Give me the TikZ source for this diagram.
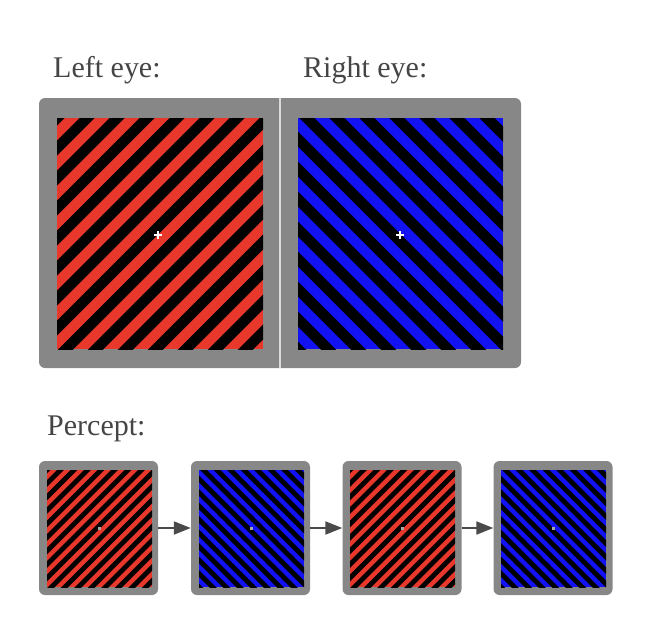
\documentclass[tikz,border=0pt]{standalone}
\usepackage{fontspec}
\setmainfont{Liberation Serif}
\usetikzlibrary{arrows.meta}
\definecolor{framegray}{HTML}{878787}
\definecolor{stripered}{HTML}{E8372B}
\definecolor{stripeblue}{HTML}{1212F2}
\definecolor{textgray}{HTML}{454545}
\definecolor{arrowgray}{HTML}{4A4A4A}
\definecolor{divgray}{HTML}{DADADA}
% #1 x1, #2 y1, #3 x2, #4 y2, #5 colour, #6 period, #7 direction (1 = /, -1 = \)
\newcommand\stripepanel[7]{%
  \begin{scope}
    \clip (#1,#2) rectangle (#3,#4);
    \fill[#5] (#1,#2) rectangle (#3,#4);
    \pgfmathsetmacro\lwd{#6*0.3536}
    \ifnum#7=1
      \pgfmathsetmacro\cs{#1+#2-#6}
      \pgfmathsetmacro\ct{#1+#2}
      \pgfmathsetmacro\ce{#3+#4+#6}
      \foreach \c in {\cs,\ct,...,\ce}{
        \draw[black,line width=\lwd pt] (\c-#4-5,#4+5) -- (\c-#2+5,#2-5);
      }
    \else
      \pgfmathsetmacro\cs{#1-#4-#6}
      \pgfmathsetmacro\ct{#1-#4}
      \pgfmathsetmacro\ce{#3-#2+#6}
      \foreach \c in {\cs,\ct,...,\ce}{
        \draw[black,line width=\lwd pt] (\c+#2-5,#2-5) -- (\c+#4+5,#4+5);
      }
    \fi
  \end{scope}}
\tikzset{
  label text/.style={anchor=base west,text=textgray,inner sep=0pt,font=\fontsize{30}{36}\selectfont},
  small frame/.style={draw=none,fill=framegray,rounded corners=6pt,minimum width=119pt,minimum height=134pt,inner sep=0pt},
  flow arrow/.style={draw=arrowgray,line width=2pt,-{Triangle[length=17pt,width=13pt]}},
  cross/.style={white,line width=1.3pt},
}
\begin{document}
\begin{tikzpicture}[x=1pt,y=-1pt]
\useasboundingbox (0,0) rectangle (654,630);
% labels
\node[label text] (lefteye) at (53,77) {Left eye:};
\node[label text] (righteye) at (303,77) {Right eye:};
\node[label text] (percept) at (47,435) {Percept:};
% top frame
\fill[framegray,rounded corners=6pt] (39,98) rectangle (521,368);
\draw[divgray,line width=2pt] (280,98) -- (280,368);
\stripepanel{57}{118}{263}{349}{stripered}{30}{1}
\stripepanel{298}{118}{503}{349}{stripeblue}{30}{-1}
\draw[cross] (154,235) -- (162,235) (158,231) -- (158,239);
\draw[cross] (396,235) -- (404,235) (400,231) -- (400,239);
% bottom frames
\node[small frame] (f1) at (98.5,528) {};
\node[small frame] (f2) at (250.5,528) {};
\node[small frame] (f3) at (402,528) {};
\node[small frame] (f4) at (553,528) {};
\stripepanel{47}{470}{152}{587}{stripered}{13.5}{1}
\stripepanel{199}{470}{304}{587}{stripeblue}{13.5}{-1}
\stripepanel{350}{470}{455}{587}{stripered}{13.5}{1}
\stripepanel{501}{470}{606}{587}{stripeblue}{13.5}{-1}
\foreach \cx in {99.5,251.5,402.5,553.5}{
  \fill[gray!70] (\cx-1.5,527) rectangle (\cx+1.5,530);
}
% arrows
\draw[flow arrow] (f1.east) -- (f2.west);
\draw[flow arrow] (f2.east) -- (f3.west);
\draw[flow arrow] (f3.east) -- (f4.west);
\end{tikzpicture}
\end{document}
